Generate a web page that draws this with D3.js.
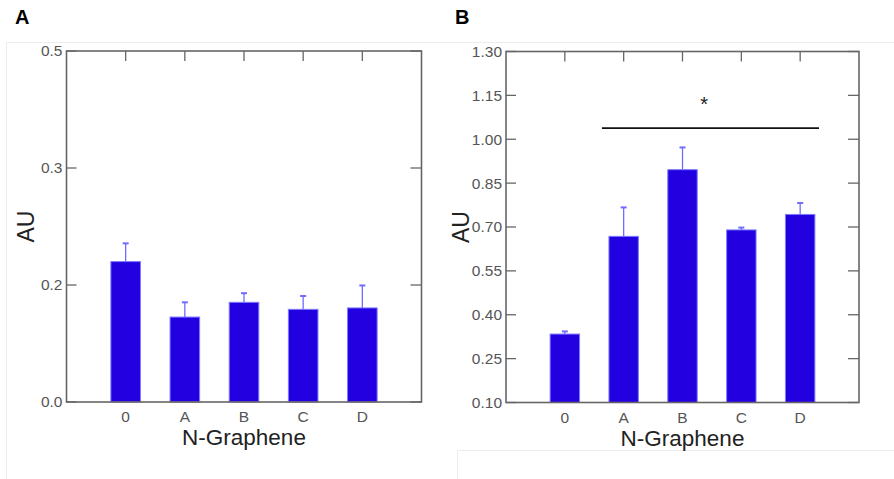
<!DOCTYPE html>
<html>
<head>
<meta charset="utf-8">
<script src="https://cdn.jsdelivr.net/npm/d3@7"></script>
<style>
  body { margin: 0; background: #fff; }
  text { font-family: "Liberation Sans", Arial, sans-serif; }
</style>
</head>
<body>
<div id="chart"></div>
<script>
var width = 894, height = 479;

// data
var categories = ["0", "A", "B", "C", "D"];
var valuesA = [0.200, 0.121, 0.142, 0.132, 0.134];
var errorsA = [0.026, 0.021, 0.013, 0.019, 0.032];
var valuesB = [0.334, 0.668, 0.896, 0.690, 0.743];
var errorsB = [0.009, 0.099, 0.076, 0.008, 0.039];
var ticksA = [0, 1 / 6, 1 / 3, 0.5];
var ticksB = [0.10, 0.25, 0.40, 0.55, 0.70, 0.85, 1.00, 1.15, 1.30];

var barColor = "#2200e0",
	errColor = "#6f6cff",
	frameColor = "#666";

var svg = d3.select("#chart")
	.append("svg")
	.attr("width", width)
	.attr("height", height);

// faint borders of the original picture
var faint = svg.append("g").attr("stroke", "#ececec").attr("stroke-width", 1);
faint.append("line").attr("x1", 6.5).attr("x2", 894).attr("y1", 42.5).attr("y2", 42.5);
faint.append("line").attr("x1", 6.5).attr("x2", 6.5).attr("y1", 42.5).attr("y2", 479);
faint.append("line").attr("x1", 457.5).attr("x2", 894).attr("y1", 450.5).attr("y2", 450.5);
faint.append("line").attr("x1", 457.5).attr("x2", 457.5).attr("y1", 450.5).attr("y2", 479);

function drawPanel(opt) {
	var g = svg.append("g")
		.attr("transform", "translate(" + opt.left + "," + opt.top + ")");
	var w = opt.w, h = opt.h;

	var x = d3.scaleLinear().domain([-1, 5]).range([0, w]);
	var y = d3.scaleLinear().domain(opt.domain).range([h, 0]);
	var bw = x(0.5) - x(0);

	// bars
	g.selectAll(".bar")
		.data(opt.values)
		.enter().append("rect")
		.attr("class", "bar")
		.attr("x", function(d, i) { return x(i) - bw / 2; })
		.attr("y", function(d) { return y(d); })
		.attr("width", bw)
		.attr("height", function(d) { return h - y(d); })
		.attr("fill", barColor)
		.attr("stroke", "#7d7aff")
		.attr("stroke-width", 1);

	// upper error bars
	var err = g.selectAll(".err")
		.data(opt.values)
		.enter().append("g")
		.attr("stroke", errColor)
		.attr("stroke-width", 1.3);
	err.append("line")
		.attr("x1", function(d, i) { return x(i); })
		.attr("x2", function(d, i) { return x(i); })
		.attr("y1", function(d) { return y(d); })
		.attr("y2", function(d, i) { return y(d + opt.errors[i]); });
	err.append("line")
		.attr("x1", function(d, i) { return x(i) - 3; })
		.attr("x2", function(d, i) { return x(i) + 3; })
		.attr("y1", function(d, i) { return y(d + opt.errors[i]); })
		.attr("y2", function(d, i) { return y(d + opt.errors[i]); })
		.attr("stroke-width", 2);

	// inner ticks on left, right and top
	var tk = g.append("g").attr("stroke", frameColor).attr("stroke-width", 1.3);
	opt.ticks.forEach(function(t) {
		tk.append("line").attr("x1", 0).attr("x2", 10).attr("y1", y(t)).attr("y2", y(t));
		tk.append("line").attr("x1", w - 11).attr("x2", w).attr("y1", y(t)).attr("y2", y(t));
	});
	categories.forEach(function(c, i) {
		tk.append("line").attr("x1", x(i)).attr("x2", x(i)).attr("y1", 0).attr("y2", 10);
	});

	// frame
	g.append("rect")
		.attr("width", w).attr("height", h)
		.attr("fill", "none")
		.attr("stroke", frameColor)
		.attr("stroke-width", 1.6);

	// tick labels
	g.selectAll(".ylab")
		.data(opt.ticks)
		.enter().append("text")
		.attr("x", -4)
		.attr("y", function(d) { return y(d); })
		.attr("dy", "0.35em")
		.attr("text-anchor", "end")
		.attr("font-size", 15.5)
		.attr("fill", "#555")
		.text(d3.format(opt.fmt));

	g.selectAll(".xlab")
		.data(categories)
		.enter().append("text")
		.attr("x", function(d, i) { return x(i); })
		.attr("y", h + 20)
		.attr("text-anchor", "middle")
		.attr("font-size", 15.5)
		.attr("fill", "#555")
		.text(function(d) { return d; });

	g.append("text")
		.attr("x", w / 2)
		.attr("y", h + 43)
		.attr("text-anchor", "middle")
		.attr("font-size", 22.5)
		.attr("fill", "#222")
		.text("N-Graphene");

	g.append("text")
		.attr("transform", "translate(" + opt.auX + "," + (h / 2) + ") rotate(-90)")
		.attr("text-anchor", "middle")
		.attr("font-size", 23)
		.attr("fill", "#222")
		.text("AU");

	svg.append("text")
		.attr("x", opt.letterX)
		.attr("y", 24)
		.attr("font-size", 20)
		.attr("font-weight", "bold")
		.attr("fill", "#000")
		.text(opt.letter);

	return { g: g, x: x, y: y };
}

drawPanel({
	left: 66.5, top: 51, w: 355, h: 351,
	domain: [0, 0.5], values: valuesA, errors: errorsA,
	ticks: ticksA, fmt: ".1f", auX: -33, letter: "A", letterX: 15
});

var pB = drawPanel({
	left: 506, top: 51.5, w: 353, h: 351,
	domain: [0.10, 1.30], values: valuesB, errors: errorsB,
	ticks: ticksB, fmt: ".2f", auX: -37, letter: "B", letterX: 455
});

// significance bar over A..D
var sigStart = 0.63, sigEnd = 4.32, sigY = 1.038, starY = 1.13;
pB.g.append("line")
	.attr("x1", pB.x(sigStart)).attr("x2", pB.x(sigEnd))
	.attr("y1", pB.y(sigY)).attr("y2", pB.y(sigY))
	.attr("stroke", "#111").attr("stroke-width", 1.6);
pB.g.append("text")
	.attr("x", pB.x(2.37))
	.attr("y", pB.y(starY) + 10)
	.attr("text-anchor", "middle")
	.attr("font-size", 20)
	.attr("fill", "#222")
	.text("*");
</script>
</body>
</html>
